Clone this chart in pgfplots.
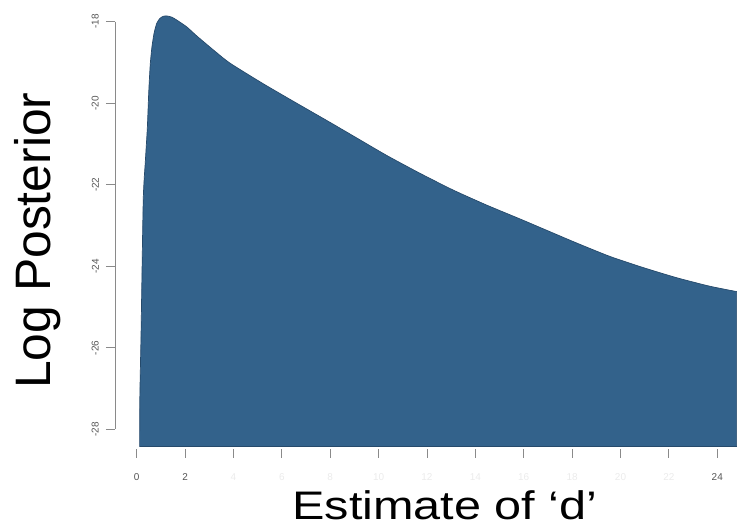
\documentclass[border=0pt]{standalone}
\usepackage{pgfplots}
\pgfplotsset{compat=1.18}
\usepackage{fontspec}
\usepackage{graphicx}
\setmainfont{Liberation Sans}
\definecolor{fillblue}{HTML}{33628B}
\definecolor{edgeblue}{HTML}{264A6B}
\definecolor{axgray}{HTML}{8A8A8A}
\definecolor{lblgray}{HTML}{555555}
\begin{document}
\begin{tikzpicture}
\path[use as bounding box] (0,0) rectangle (740bp,527bp);
\begin{axis}[
  scale only axis,
  width=625bp, height=449bp,
  at={(115bp,78bp)}, anchor=south west,
  xmin=-0.897, xmax=24.94,
  ymin=-28.48, ymax=-17.47,
  axis lines*=left,
  axis line style={draw=none},
  tick align=outside,
  major tick length=9bp,
  tick style={axgray, line width=0.8bp},
  xtick={0,2,...,24},
  xticklabels={0,2,\textcolor{black!8}{4},\textcolor{black!8}{6},\textcolor{black!8}{8},\textcolor{black!8}{10},\textcolor{black!8}{12},\textcolor{black!8}{14},\textcolor{black!8}{16},\textcolor{black!8}{18},\textcolor{black!8}{20},\textcolor{black!8}{22},24},
  ytick={-28,-26,...,-18},
  /pgf/number format/assume math mode=true,
  ticklabel style={font=\fontsize{10}{10}\selectfont, text=lblgray, inner sep=0pt},
  xticklabel style={anchor=north, yshift=-15bp},
  yticklabel style={rotate=90, anchor=south, yshift=7bp},
  xlabel={\scalebox{1.22}[1]{Estimate of ‘d’}},
  ylabel={Log Posterior},
  xlabel style={font=\fontsize{40}{40}\selectfont, at={(rel axis cs:0.528,-0.158)}, anchor=base, inner sep=0pt},
  ylabel style={font=\fontsize{50}{50}\selectfont, at={(rel axis cs:-0.1024,0.464)}, anchor=base, rotate=0, inner sep=0pt},
  clip=true,
]
\addplot[fill=fillblue, draw=edgeblue, line width=0.7bp, smooth, tension=0.35] coordinates {
  (0.12,-28.42) (0.13,-27.2) (0.18,-25.65) (0.27,-22.38) (0.36,-21.4)
  (0.44,-20.6) (0.50,-19.7) (0.56,-19.05) (0.63,-18.62) (0.72,-18.28)
  (0.83,-18.04) (0.96,-17.92)
  (1.10,-17.87) (1.24,-17.86) (1.45,-17.89) (1.65,-17.96) (2.07,-18.13)
  (2.48,-18.35) (3.20,-18.71) (3.86,-19.02) (5.22,-19.52) (6.61,-20.00)
  (7.99,-20.47) (9.00,-20.82) (10.33,-21.28) (11.71,-21.72) (13.08,-22.13)
  (14.47,-22.50) (15.85,-22.84) (16.80,-23.08) (18.19,-23.43) (19.57,-23.76)
  (20.93,-24.03) (22.32,-24.28) (23.70,-24.49) (24.80,-24.62)
} |- (axis cs:0.12,-28.42) -- cycle;
\draw[axgray, line width=0.8bp] (axis cs:-0.897,-18) -- (axis cs:-0.897,-28);
\draw[axgray, line width=0.8bp] (axis cs:0,-28.48) -- (axis cs:24,-28.48);
\end{axis}
\end{tikzpicture}
\end{document}
